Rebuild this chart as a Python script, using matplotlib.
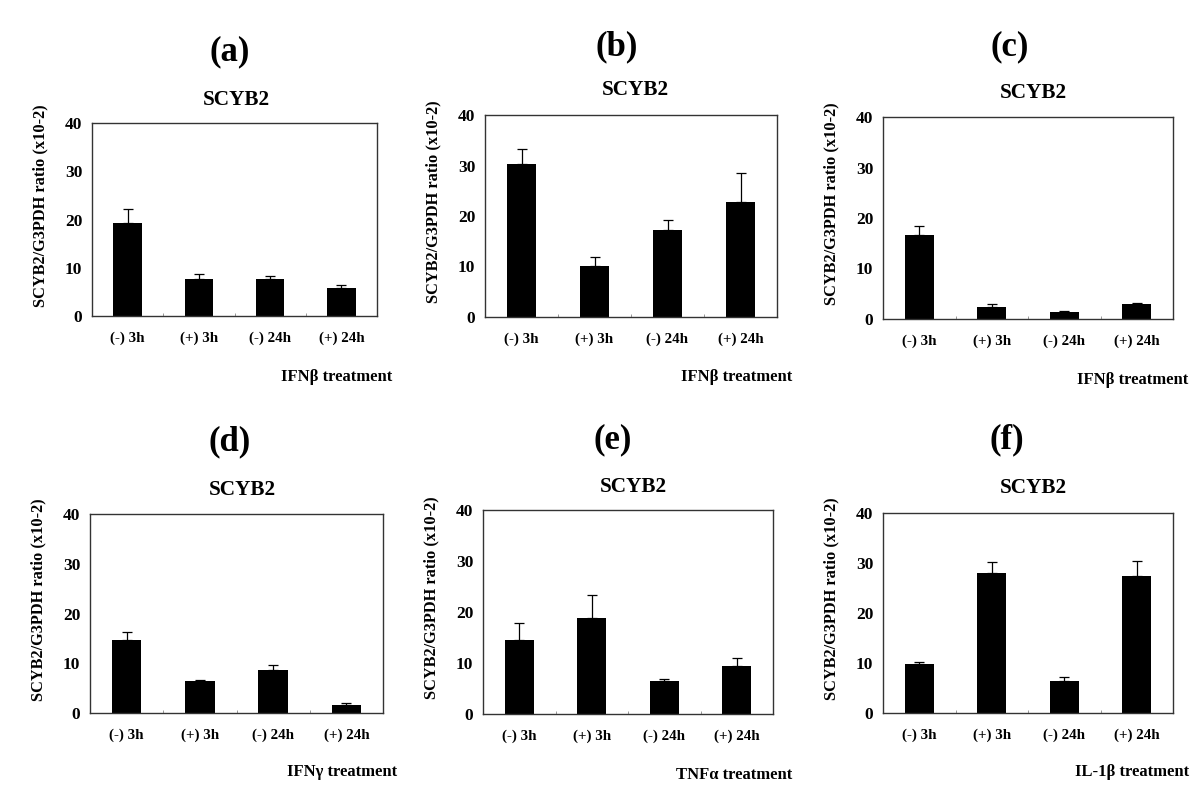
import matplotlib.pyplot as plt
import numpy as np

# data (ratio x10-2), upper error bars only
groups = ["(-) 3h", "(+) 3h", "(-) 24h", "(+) 24h"]
panel_tags = ["(a)", "(b)", "(c)", "(d)", "(e)", "(f)"]
treatments = ["IFN\u03b2 treatment", "IFN\u03b2 treatment", "IFN\u03b2 treatment",
              "IFN\u03b3 treatment", "TNF\u03b1 treatment", "IL-1\u03b2 treatment"]

vals_a = [19.2, 7.6, 7.6, 5.9]
err_a = [2.9, 1.15, 0.7, 0.5]
vals_b = [30.3, 10.1, 17.2, 22.8]
err_b = [2.9, 1.8, 2.1, 5.8]
vals_c = [16.6, 2.4, 1.3, 3.0]
err_c = [1.8, 0.6, 0.2, 0.2]
vals_d = [14.7, 6.5, 8.7, 1.6]
err_d = [1.5, 0.2, 0.9, 0.4]
vals_e = [14.5, 18.8, 6.5, 9.4]
err_e = [3.3, 4.6, 0.4, 1.6]
vals_f = [9.9, 28.1, 6.4, 27.5]
err_f = [0.4, 2.1, 0.9, 3.0]

values = [vals_a, vals_b, vals_c, vals_d, vals_e, vals_f]
errors = [err_a, err_b, err_c, err_d, err_e, err_f]

W, H = 1200, 795
# axes boxes in pixels: left, top, right, bottom
boxes = [(92, 123, 377, 316), (485, 115, 777, 317), (883, 117, 1173, 319),
         (90, 514, 383, 713), (483, 510, 773, 714), (883, 513, 1173, 713)]
tag_pos = [(230, 52), (617, 47), (1010, 47), (230, 442), (613, 440), (1007, 440)]
title_pos = [(236, 100), (635, 90), (1033, 93), (242, 490), (633, 487), (1033, 488)]
treat_pos = [(392, 377), (792, 377), (1188, 380), (397, 772), (792, 775), (1189, 772)]

plt.rcParams['font.family'] = 'Liberation Serif'
plt.rcParams['font.weight'] = 'bold'

fig = plt.figure(figsize=(12, 7.95), dpi=100)

for i in range(6):
    l, t, r, b = boxes[i]
    ax = fig.add_axes([l / W, 1 - b / H, (r - l) / W, (b - t) / H])
    x = np.arange(len(groups))
    ax.bar(x, values[i], width=0.4, color='black',
           yerr=[[0] * 4, errors[i]], capsize=3.5,
           error_kw=dict(ecolor='black', elinewidth=0.9, capthick=0.9))
    ax.set_xlim(-0.5, 3.5)
    ax.set_ylim(0, 40)
    ax.set_yticks([0, 10, 20, 30, 40])
    ax.set_xticks(x)
    ax.set_xticklabels(groups, fontsize=10.8, fontweight='bold')
    ax.set_xticks(np.arange(0.5, 3.5, 1), minor=True)
    ax.tick_params(axis='x', which='major', length=0, pad=11)
    ax.tick_params(axis='x', which='minor', length=2, direction='in', color='#888888')
    ax.tick_params(axis='y', length=0, pad=7, labelsize=12.5)
    for lab in ax.get_yticklabels():
        lab.set_fontweight('bold')
    for s in ax.spines.values():
        s.set_color('#333333')
        s.set_linewidth(1.0)

    fig.text(tag_pos[i][0] / W, 1 - tag_pos[i][1] / H, panel_tags[i],
             fontsize=25, fontweight='bold', ha='center', va='center')
    fig.text(title_pos[i][0] / W, 1 - title_pos[i][1] / H, "SCYB2",
             fontsize=15.3, fontweight='bold', ha='center', va='center')
    fig.text(treat_pos[i][0] / W, 1 - treat_pos[i][1] / H, treatments[i],
             fontsize=12, fontweight='bold', ha='right', va='center')
    fig.text((l - 52) / W, 1 - ((t + b) / 2 - 14) / H,
             "SCYB2/G3PDH ratio (x10-2)", rotation=90,
             fontsize=11.8, fontweight='bold', ha='center', va='center')

fig.savefig("out.png", dpi=100)
